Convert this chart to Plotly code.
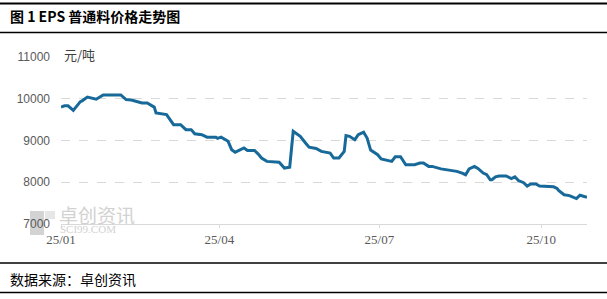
import plotly.graph_objects as go

dates = [
    "2025-01-01", "2025-01-03", "2025-01-05", "2025-01-08", "2025-01-12", "2025-01-13",
    "2025-01-16", "2025-01-21", "2025-01-25", "2025-02-04", "2025-02-07", "2025-02-10",
    "2025-02-16", "2025-02-19", "2025-02-23", "2025-02-24", "2025-03-02", "2025-03-05",
    "2025-03-06", "2025-03-10", "2025-03-13", "2025-03-16", "2025-03-18", "2025-03-22",
    "2025-03-25", "2025-03-30", "2025-03-31", "2025-04-02", "2025-04-06", "2025-04-08",
    "2025-04-10", "2025-04-11", "2025-04-15", "2025-04-17", "2025-04-21", "2025-04-23",
    "2025-04-25", "2025-04-28", "2025-05-05", "2025-05-08", "2025-05-11", "2025-05-13",
    "2025-05-17", "2025-05-20", "2025-05-22", "2025-05-26", "2025-05-29", "2025-06-03",
    "2025-06-05", "2025-06-08", "2025-06-11", "2025-06-12", "2025-06-14", "2025-06-17",
    "2025-06-19", "2025-06-22", "2025-06-24", "2025-06-26", "2025-06-30", "2025-07-02",
    "2025-07-06", "2025-07-08", "2025-07-10", "2025-07-13", "2025-07-16", "2025-07-21",
    "2025-07-24", "2025-07-26", "2025-07-29", "2025-07-31", "2025-08-05", "2025-08-10",
    "2025-08-14", "2025-08-17", "2025-08-19", "2025-08-21", "2025-08-24", "2025-08-26",
    "2025-08-29", "2025-08-31", "2025-09-02", "2025-09-03", "2025-09-05", "2025-09-07",
    "2025-09-11", "2025-09-14", "2025-09-16", "2025-09-18", "2025-09-21", "2025-09-23",
    "2025-09-25", "2025-09-28", "2025-09-30", "2025-10-08", "2025-10-10", "2025-10-11",
    "2025-10-14", "2025-10-17", "2025-10-21", "2025-10-23", "2025-10-27",
]
prices = [
    9800, 9830, 9830, 9720, 9930, 9950,
    10040, 9990, 10090, 10090, 9980, 9970,
    9900, 9900, 9800, 9660, 9620, 9460,
    9380, 9380, 9260, 9260, 9160, 9140,
    9080, 9080, 9050, 9080, 8980, 8780,
    8720, 8740, 8820, 8760, 8760, 8680,
    8580, 8500, 8480, 8340, 8360, 9220,
    9100, 8940, 8840, 8810, 8740, 8700,
    8580, 8580, 8740, 9120, 9100, 9020,
    9140, 9200, 9060, 8770, 8660, 8560,
    8530, 8500, 8610, 8610, 8420, 8420,
    8460, 8460, 8380, 8380, 8320, 8290,
    8260, 8220, 8180, 8320, 8380, 8330,
    8220, 8180, 8060, 8060, 8130, 8150,
    8150, 8090, 8130, 8040, 7990, 7910,
    7960, 7960, 7910, 7890, 7850, 7800,
    7700, 7680, 7610, 7690, 7640,
]
x_tickvals = ["2025-01-01", "2025-04-01", "2025-07-01", "2025-10-01"]
x_ticktext = ["25/01", "25/04", "25/07", "25/10"]
y_tickvals = [7000, 8000, 9000, 10000, 11000]
y_ticktext = ["7000", "8000", "9000", "10000", "11000"]

title_text = "图 1 EPS 普通料价格走势图"
unit_text = "元/吨"
source_text = "数据来源：卓创资讯"
watermark_cn = "卓创资讯"
watermark_en = "SCI99.COM"

W, H = 607, 299
L, R, T, B = 61, 20, 57, 75
pw, ph = W - L - R, H - T - B


def px(x):
    return (x - L) / pw


def py(y):
    return (H - B - y) / ph


fig = go.Figure()
fig.add_trace(go.Scatter(
    x=dates, y=prices, mode="lines",
    line=dict(color="#17699a", width=3),
    hoverinfo="skip", showlegend=False,
))

fig.update_layout(
    width=W, height=H,
    margin=dict(l=L, r=R, t=T, b=B, pad=0),
    paper_bgcolor="white", plot_bgcolor="white",
    showlegend=False,
    xaxis=dict(
        type="date", range=["2025-01-01", "2025-10-27"],
        tickvals=x_tickvals, ticktext=x_ticktext,
        showgrid=False, zeroline=False,
        showline=True, linecolor="#d9d9d9", linewidth=1,
        ticks="outside", ticklen=3, tickcolor="#d9d9d9",
        tickfont=dict(family="Liberation Serif", size=13, color="#595959"),
    ),
    yaxis=dict(
        range=[7000, 11000], tickvals=y_tickvals, ticktext=y_ticktext,
        showgrid=True, gridcolor="#d9d9d9", griddash="dash", gridwidth=1,
        zeroline=False, showline=False,
        ticks="", ticklabelstandoff=10,
        tickfont=dict(family="Liberation Sans", size=12, color="#595959"),
    ),
)

# frame lines (title band and source band)
for yy, w in [(3.5, 2), (32.5, 1.5), (263, 1.5), (292.5, 1.5)]:
    fig.add_shape(type="line", xref="paper", yref="paper",
                  x0=px(0), x1=px(W), y0=py(yy), y1=py(yy),
                  line=dict(color="black", width=w))

# watermark logo
fig.add_shape(type="rect", xref="paper", yref="paper",
              x0=px(30), x1=px(44), y0=py(235), y1=py(211),
              fillcolor="#d3d3d3", line=dict(width=0), layer="below")
fig.add_shape(type="rect", xref="paper", yref="paper",
              x0=px(45), x1=px(55), y0=py(219), y1=py(211),
              fillcolor="#e6e6e6", line=dict(width=0), layer="below")

annos = [
    dict(text="<b>" + title_text + "</b>", x=px(8), y=py(16), xanchor="left", yanchor="middle",
         font=dict(family="Noto Sans CJK SC", size=14, color="black")),
    dict(text=source_text, x=px(8), y=py(279), xanchor="left", yanchor="middle",
         font=dict(family="Noto Sans CJK SC", size=14, color="black")),
    dict(text=unit_text, x=px(62), y=py(55), xanchor="left", yanchor="middle",
         font=dict(family="Noto Sans CJK SC", size=13, color="#404040")),
    dict(text=watermark_cn, x=px(57), y=py(214), xanchor="left", yanchor="middle",
         font=dict(family="Noto Sans CJK SC", size=19, color="#d2d2d2")),
    dict(text=watermark_en, x=px(58), y=py(229), xanchor="left", yanchor="middle",
         font=dict(family="Liberation Serif", size=11, color="#d2d2d2")),
]
for a in annos:
    fig.add_annotation(xref="paper", yref="paper", showarrow=False, **a)

fig.write_html("out.html")
